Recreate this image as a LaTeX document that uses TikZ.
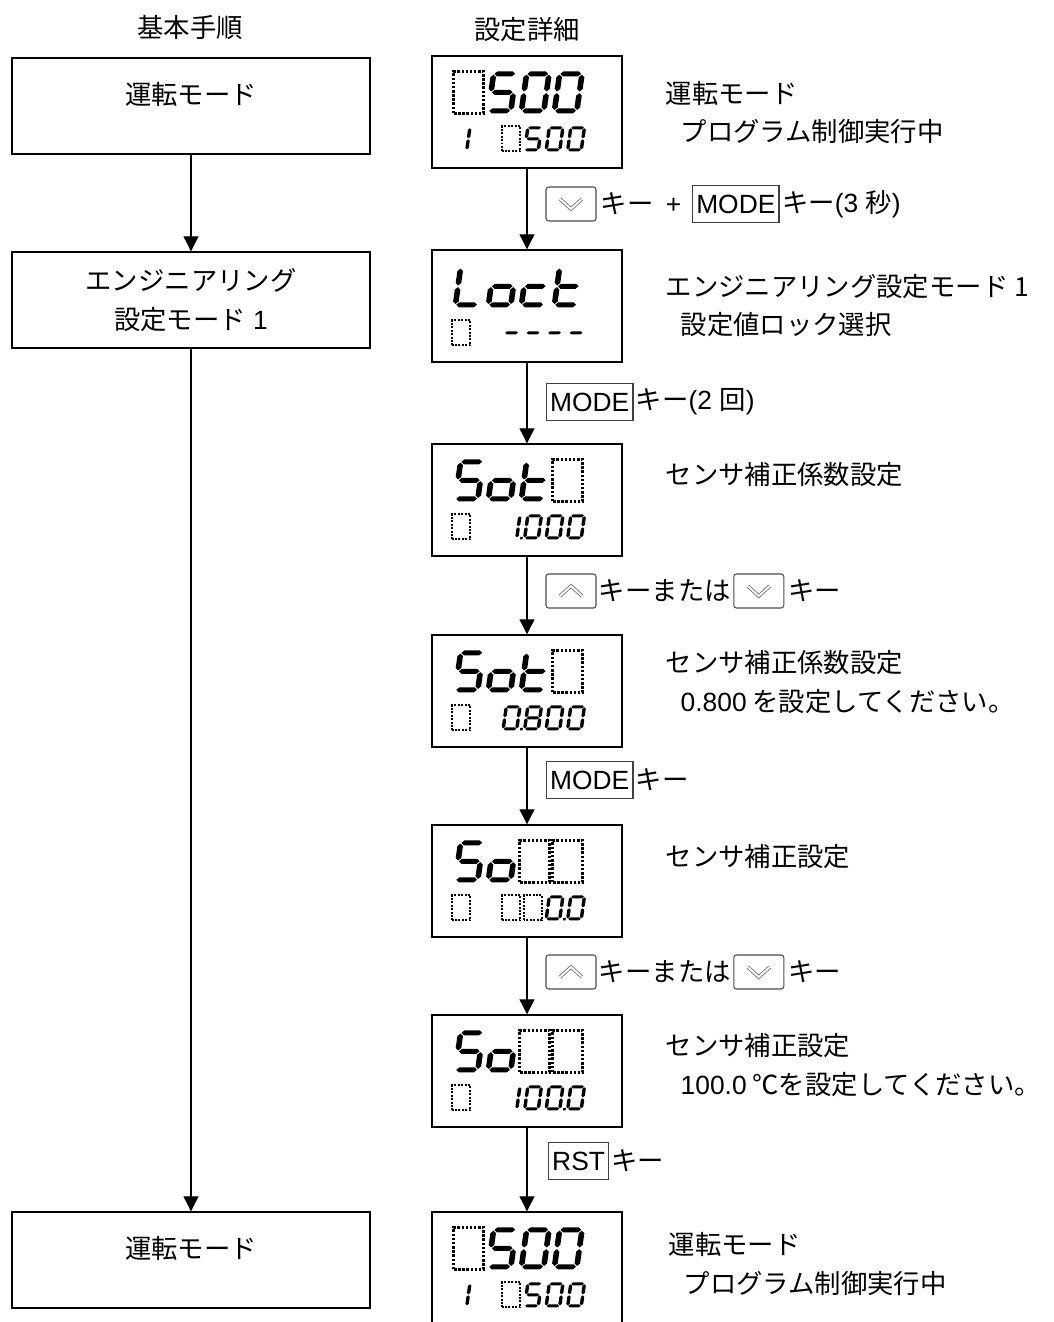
\documentclass[tikz,border=0pt]{standalone}
\usepackage{fontspec}
\setmainfont{Liberation Sans}
\newfontfamily\jp{Noto Sans CJK JP}
\newfontfamily\arial{Liberation Sans}
\usetikzlibrary{arrows.meta, positioning}
\newcommand\fsz{\fontsize{15pt}{22.7pt}\selectfont}
% segments of one LCD cell (unit box, slanted later)
\def\lcda{(0.13,0.94) -- (0.23,1) -- (0.77,1) -- (0.87,0.94) -- (0.77,0.88) -- (0.23,0.88) -- cycle}
\def\lcdg{(0.13,0.5) -- (0.23,0.56) -- (0.77,0.56) -- (0.87,0.5) -- (0.77,0.44) -- (0.23,0.44) -- cycle}
\def\lcdd{(0.13,0.06) -- (0.23,0.12) -- (0.77,0.12) -- (0.87,0.06) -- (0.77,0) -- (0.23,0) -- cycle}
\def\lcdf{(0.1,0.52) -- (0.2,0.58) -- (0.2,0.86) -- (0.1,0.92) -- (0,0.86) -- (0,0.58) -- cycle}
\def\lcde{(0.1,0.08) -- (0.2,0.14) -- (0.2,0.42) -- (0.1,0.48) -- (0,0.42) -- (0,0.14) -- cycle}
\def\lcdb{(0.9,0.52) -- (1,0.58) -- (1,0.86) -- (0.9,0.92) -- (0.8,0.86) -- (0.8,0.58) -- cycle}
\def\lcdc{(0.9,0.08) -- (1,0.14) -- (1,0.42) -- (0.9,0.48) -- (0.8,0.42) -- (0.8,0.14) -- cycle}
\def\lcdp{(1.1,0) rectangle (1.25,0.1)}
\def\lcdoffword{off}
\def\chZero{a,b,c,d,e,f}
\def\chOne{b,c}
\def\chFive{a,f,g,c,d}
\def\chEight{a,b,c,d,e,f,g}
\def\chL{d,e,f}
\def\chc{d,e,g}
\def\cho{c,d,e,g}
\def\cht{d,e,f,g}
\def\chDash{g}
% one row of cells: display, first x, pitch, bottom y, cell style, cells
\newcommand\lcdrow[6]{%
  \foreach \seg [count=\i from 0] in {#6} {
    \begin{scope}[shift={(#1.north west)}, shift={(#2+#3*\i,#4)}, #5]
      \edef\seglist{\seg}
      \ifx\seglist\lcdoffword
        \draw[lcdoff] (0.05,0) rectangle (1.12,1);
      \else
        \begin{scope}[xslant=0.14]
          \foreach \s in \seglist {\fill[lcdseg] \csname lcd\s\endcsname;}
        \end{scope}
      \fi
    \end{scope}
  }}
\newcommand\chevdown[1]{\draw[chev] ([shift={(-0.22,0.1)}]#1.center) -- ([shift={(0,-0.1)}]#1.center) -- ([shift={(0.22,0.1)}]#1.center);}
\newcommand\chevup[1]{\draw[chev] ([shift={(-0.22,-0.1)}]#1.center) -- ([shift={(0,0.1)}]#1.center) -- ([shift={(0.22,-0.1)}]#1.center);}
\tikzset{
  every picture/.style={line width=0.8pt},
  hdr/.style={font=\jp\fsz},
  stepbox/.style={draw, minimum width=7.16cm, minimum height=1.92cm, align=center, font=\jp\fsz},
  lcdbox/.style={draw, minimum width=3.8cm, minimum height=2.24cm},
  arrow/.style={-{Triangle[length=0.3cm, width=0.3cm]}, line width=0.6pt},
  lcdseg/.style={fill=black},
  bigcell/.style={x=0.56cm, y=0.84cm,
    lcdoff/.style={line width=0.05cm, dash pattern=on 0.05cm off 0.033cm}},
  smallcell/.style={x=0.34cm, y=0.5cm,
    lcdoff/.style={line width=0.04cm, dash pattern=on 0.04cm off 0.028cm}},
  desc/.style={font=\jp\fsz, anchor=west, inner sep=0pt},
  lbl/.style={font=\jp\fsz, anchor=west, inner sep=0pt},
  akey/.style={draw=black!70, rounded corners=1.5pt, minimum width=1cm, minimum height=0.68cm, line width=0.6pt},
  kbox/.style={draw=black!75, font=\arial\fsz, inner xsep=2pt, minimum height=0.74cm, line width=0.8pt},
  chev/.style={draw=gray!80!black, double=white, double distance=1.1pt, line width=0.45pt},
}
\begin{document}
\begin{tikzpicture}
  \useasboundingbox (0,0) rectangle (21.06,-26.44);
  % column heads
  \node[hdr] (h1) at (3.8,-0.56) {基本手順};
  \node[hdr] (h2) at (10.54,-0.6) {設定詳細};
  % basic procedure
  \node[stepbox] (s1) at (3.82,-2.12) {運転モード\\[-8pt]\mbox{}};
  \node[stepbox] (s2) at (3.82,-6.0) {エンジニアリング\\設定モード{\arial\ 1}};
  \node[stepbox] (s3) at (3.82,-25.2) {運転モード\\[-8pt]\mbox{}};
  \draw[arrow] (s1) -- (s2);
  \draw[arrow] (s2) -- (s3);
  % setting details
  \node[lcdbox] (d1) at (10.54,-2.24) {};
  \node[lcdbox] (d2) at (10.54,-6.12) {};
  \node[lcdbox] (d3) at (10.54,-10.0) {};
  \node[lcdbox] (d4) at (10.54,-13.82) {};
  \node[lcdbox] (d5) at (10.54,-17.62) {};
  \node[lcdbox] (d6) at (10.54,-21.42) {};
  \node[lcdbox] (d7) at (10.54,-25.36) {};
  \foreach \a/\b in {d1/d2, d2/d3, d3/d4, d4/d5, d5/d6, d6/d7}
    \draw[arrow] (\a) -- (\b);
  % display contents
  \lcdrow{d1}{0.42}{0.66}{-1.16}{bigcell}{off,\chFive,\chZero,\chZero}
  \lcdrow{d1}{0.4}{0}{-1.92}{smallcell}{\chOne}
  \lcdrow{d1}{1.4}{0.43}{-1.92}{smallcell}{off,\chFive,\chZero,\chZero}
  \lcdrow{d2}{0.42}{0.66}{-1.16}{bigcell}{\chL,\cho,\chc,\cht}
  \lcdrow{d2}{0.4}{0}{-1.92}{smallcell}{off}
  \lcdrow{d2}{1.4}{0.43}{-1.92}{smallcell}{\chDash,\chDash,\chDash,\chDash}
  \lcdrow{d3}{0.42}{0.66}{-1.16}{bigcell}{\chFive,\cho,\cht,off}
  \lcdrow{d3}{0.4}{0}{-1.92}{smallcell}{off}
  \lcdrow{d3}{1.4}{0.43}{-1.92}{smallcell}{{b,c,p},\chZero,\chZero,\chZero}
  \lcdrow{d4}{0.42}{0.66}{-1.16}{bigcell}{\chFive,\cho,\cht,off}
  \lcdrow{d4}{0.4}{0}{-1.92}{smallcell}{off}
  \lcdrow{d4}{1.4}{0.43}{-1.92}{smallcell}{{a,b,c,d,e,f,p},\chEight,\chZero,\chZero}
  \lcdrow{d5}{0.42}{0.66}{-1.16}{bigcell}{\chFive,\cho,off,off}
  \lcdrow{d5}{0.4}{0}{-1.92}{smallcell}{off}
  \lcdrow{d5}{1.4}{0.43}{-1.92}{smallcell}{off,off,{a,b,c,d,e,f,p},\chZero}
  \lcdrow{d6}{0.42}{0.66}{-1.16}{bigcell}{\chFive,\cho,off,off}
  \lcdrow{d6}{0.4}{0}{-1.92}{smallcell}{off}
  \lcdrow{d6}{1.4}{0.43}{-1.92}{smallcell}{\chOne,\chZero,{a,b,c,d,e,f,p},\chZero}
  \lcdrow{d7}{0.42}{0.66}{-1.16}{bigcell}{off,\chFive,\chZero,\chZero}
  \lcdrow{d7}{0.4}{0}{-1.92}{smallcell}{\chOne}
  \lcdrow{d7}{1.4}{0.43}{-1.92}{smallcell}{off,\chFive,\chZero,\chZero}
  % descriptions
  \node[desc] (t1a) at (13.3,-1.86) {運転モード};
  \node[desc] (t1b) at (13.6,-2.64) {プログラム制御実行中};
  \node[desc] (t2a) at (13.3,-5.74) {エンジニアリング設定モード 1};
  \node[desc] (t2b) at (13.6,-6.5) {設定値ロック選択};
  \node[desc] (t3a) at (13.3,-9.5) {センサ補正係数設定};
  \node[desc] (t4a) at (13.3,-13.26) {センサ補正係数設定};
  \node[desc] (t4b) at (13.6,-14.04) {{\arial 0.800} を設定してください。};
  \node[desc] (t5a) at (13.3,-17.14) {センサ補正設定};
  \node[desc] (t6a) at (13.3,-20.92) {センサ補正設定};
  \node[desc] (t6b) at (13.6,-21.7) {{\arial 100.0} ℃を設定してください。};
  \node[desc] (t7a) at (13.36,-24.88) {運転モード};
  \node[desc] (t7b) at (13.66,-25.66) {プログラム制御実行中};
  % key operations
  \node[akey] (k1a) at (11.42,-4.08) {};
  \chevdown{k1a}
  \node[lbl] (k1b) at ([xshift=2pt]k1a.east) {キー\hspace{0.25cm}{\arial +}};
  \node[kbox, anchor=west] (k1c) at ([xshift=0.2cm]k1b.east) {MODE};
  \node[lbl] (k1d) at ([xshift=1pt]k1c.east) {キー{\arial (3 }秒{\arial )}};
  \node[kbox, anchor=west] (k2a) at (10.92,-8.04) {MODE};
  \node[lbl] (k2b) at ([xshift=1pt]k2a.east) {キー{\arial (2 }回{\arial )}};
  \node[akey] (k3a) at (11.42,-11.82) {};
  \chevup{k3a}
  \node[lbl] (k3b) at ([xshift=1pt]k3a.east) {キーまたは};
  \node[akey, anchor=west] (k3c) at ([xshift=1pt]k3b.east) {};
  \chevdown{k3c}
  \node[lbl] (k3d) at ([xshift=2pt]k3c.east) {キー};
  \node[kbox, anchor=west] (k4a) at (10.92,-15.6) {MODE};
  \node[lbl] (k4b) at ([xshift=1pt]k4a.east) {キー};
  \node[akey] (k5a) at (11.42,-19.44) {};
  \chevup{k5a}
  \node[lbl] (k5b) at ([xshift=1pt]k5a.east) {キーまたは};
  \node[akey, anchor=west] (k5c) at ([xshift=1pt]k5b.east) {};
  \chevdown{k5c}
  \node[lbl] (k5d) at ([xshift=2pt]k5c.east) {キー};
  \node[kbox, anchor=west] (k6a) at (10.96,-23.22) {RST};
  \node[lbl] (k6b) at ([xshift=1pt]k6a.east) {キー};
\end{tikzpicture}
\end{document}
